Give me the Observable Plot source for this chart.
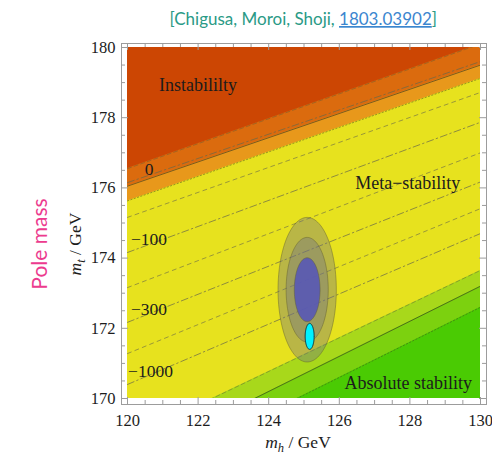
<!DOCTYPE html>
<html>
<head>
<meta charset="utf-8">
<script src="https://cdn.jsdelivr.net/npm/d3@7"></script>
<script src="https://cdn.jsdelivr.net/npm/@observablehq/plot@0.6"></script>
<style>
  html, body { margin: 0; padding: 0; background: #fff; }
  #chart svg { display: block; }
</style>
</head>
<body>
<div id="chart"></div>
<script>
// Axes: Higgs mass m_h and top pole mass m_t, both in GeV
const mhDomain = [120, 130];
const mtDomain = [170, 180];
const xMajorTicks = [120, 122, 124, 126, 128, 130];
const yMajorTicks = [170, 172, 174, 176, 178, 180];

// Phase bands, painted bottom to top; each covers everything above its lower edge.
// An edge is given by m_t at m_h = 120 GeV and at m_h = 130 GeV.
const bandNames = ["absolute", "absoluteEdgeLow", "absoluteEdgeHigh", "meta", "metaEdgeLow", "metaEdgeHigh", "instability"];
const bandFills = ["#4acb03", "#7cd10f", "#a8d81b", "#e7e21e", "#e8981b", "#db6b0e", "#cc4603"];
const bandEdgeAt120 = [170.0, 167.6, 168.2, 168.85, 175.63, 176.05, 176.55];
const bandEdgeAt130 = [170.0, 172.6, 173.2, 173.65, 179.12, 179.5, 180.1];

// Phase boundaries: central value (solid) and the two variations (dashed, dotted)
const edgeStyles = ["solid", "dashed", "dotted"];
const upperEdgeAt120 = [176.05, 176.55, 175.63];
const upperEdgeAt130 = [179.5, 180.1, 179.12];
const lowerEdgeAt120 = [168.2, 168.85, 167.6];
const lowerEdgeAt130 = [173.2, 173.65, 172.6];

// Decay-rate contours (labelled, dash-dot) and the intermediate ones (dashed)
const contourLabels = ["0", "−100", "−300", "−1000"];
const contourAt120 = [176.15, 174.16, 172.17, 170.4];
const contourAt130 = [179.6, 177.87, 176.17, 174.7];
const contourLabelMh = [120.61, 120.61, 120.61, 120.65];
const contourLabelMt = [176.52, 174.53, 172.54, 170.77];
const midContourAt120 = [175.16, 173.16, 171.28];
const midContourAt130 = [178.72, 177.0, 175.41];

// Region names
const regionLabels = ["Instabililty", "Meta−stability", "Absolute stability"];
const regionLabelMh = [122.0, 127.94, 127.95];
const regionLabelMt = [178.92, 176.13, 170.43];

// Current measurement (3σ, 2σ, 1σ) and a future projection
const fitMh = 125.09, fitMt = 173.1;
const fitLevels = ["3σ", "2σ", "1σ"];
const fitHalfWidthMh = [0.826, 0.597, 0.365];
const fitHalfWidthMt = [2.06, 1.49, 0.91];
const fitFills = ["#6e6e88", "#6e6e88", "#5858b6"];
const fitOpacity = [0.38, 0.38, 0.9];
const futureMh = 125.16, futureMt = 171.77;
const futureHalfWidthMh = 0.127, futureHalfWidthMt = 0.37;

// ---- layout ----
const W = 492, H = 456;
const margin = {left: 127, right: 12, top: 47, bottom: 58};
const plotW = W - margin.left - margin.right;
const plotH = H - margin.top - margin.bottom;
const pad = {left: 6, right: 6, top: 4, bottom: 6};
const majorLen = 7, minorLen = 4;
const frameColor = "#9c9c9c";

const xMinorTicks = d3.range(120, 130.01, 0.5).filter(v => !xMajorTicks.includes(v));
const yMinorTicks = d3.range(170, 180.01, 0.5).filter(v => !yMajorTicks.includes(v));

const straight = (a, b) => [{mh: mhDomain[0], mt: a}, {mh: mhDomain[1], mt: b}];

const angles = d3.range(0, 360, 3).map(a => a * Math.PI / 180);
const ellipse = (cx, cy, rx, ry) => angles.map(t => ({mh: cx + rx * Math.cos(t), mt: cy + ry * Math.sin(t)}));

const dashOf = {solid: null, dashed: "4,3", dotted: "1.3,2.2"};
const edgeStroke = {solid: "#2f3020", dashed: "#5a5a3a", dotted: "#3f4a20"};
const edgeOpacity = {solid: 0.75, dashed: 0.55, dotted: 0.6};

const serif = "Liberation Serif, Times New Roman, serif";
const inkColor = "#1c1c1c";

const edgeTicks = (ticks, len) => [
  Plot.tickX(ticks, {x: d => d, insetTop: plotH - len, dy: pad.bottom, stroke: frameColor}),
  Plot.tickX(ticks, {x: d => d, insetBottom: plotH - len, dy: -pad.top, stroke: frameColor})
];
const sideTicks = (ticks, len) => [
  Plot.tickY(ticks, {y: d => d, insetRight: plotW - len, dx: -pad.left, stroke: frameColor}),
  Plot.tickY(ticks, {y: d => d, insetLeft: plotW - len, dx: pad.right, stroke: frameColor})
];

const chart = Plot.plot({
  width: W,
  height: H,
  marginLeft: margin.left,
  marginRight: margin.right,
  marginTop: margin.top,
  marginBottom: margin.bottom,
  style: {fontFamily: serif, fontSize: "16.5px", color: inkColor, background: "#fff"},
  x: {domain: mhDomain},
  y: {domain: mtDomain},
  marks: [
    // phase bands
    ...bandFills.map((f, i) =>
      Plot.areaY(straight(bandEdgeAt120[i], bandEdgeAt130[i]),
        {x: "mh", y1: "mt", y2: mtDomain[1] + 1, fill: f, clip: true})),
    // intermediate contours
    ...midContourAt120.map((a, i) =>
      Plot.line(straight(a, midContourAt130[i]),
        {x: "mh", y: "mt", stroke: "#6a6a48", strokeWidth: 0.9, strokeOpacity: 0.7, strokeDasharray: "4,4", clip: true})),
    // labelled contours
    ...contourAt120.map((a, i) =>
      Plot.line(straight(a, contourAt130[i]),
        {x: "mh", y: "mt", stroke: "#6a6a48", strokeWidth: 0.9, strokeOpacity: 0.8, strokeDasharray: "7,3,1.5,3", clip: true})),
    // phase boundaries
    ...edgeStyles.flatMap((s, i) => [
      Plot.line(straight(upperEdgeAt120[i], upperEdgeAt130[i]),
        {x: "mh", y: "mt", stroke: edgeStroke[s], strokeOpacity: edgeOpacity[s], strokeWidth: 0.8, strokeDasharray: dashOf[s], clip: true}),
      Plot.line(straight(lowerEdgeAt120[i], lowerEdgeAt130[i]),
        {x: "mh", y: "mt", stroke: edgeStroke[s], strokeOpacity: edgeOpacity[s], strokeWidth: 0.8, strokeDasharray: dashOf[s], clip: true})
    ]),
    // measurement ellipses
    ...fitLevels.map((lvl, i) =>
      Plot.line(ellipse(fitMh, fitMt, fitHalfWidthMh[i], fitHalfWidthMt[i]),
        {x: "mh", y: "mt", curve: "linear-closed", fill: fitFills[i], fillOpacity: fitOpacity[i],
         stroke: "#5e5c2c", strokeOpacity: 0.55, strokeWidth: 0.8})),
    Plot.line(ellipse(futureMh, futureMt, futureHalfWidthMh, futureHalfWidthMt),
      {x: "mh", y: "mt", curve: "linear-closed", fill: "#00f2ff", stroke: "#10343a", strokeWidth: 1}),
    // labels
    Plot.text(contourLabels, {x: (d, i) => contourLabelMh[i], y: (d, i) => contourLabelMt[i], text: d => d,
      fontSize: 17.5, fill: inkColor}),
    Plot.text(regionLabels, {x: (d, i) => regionLabelMh[i], y: (d, i) => regionLabelMt[i], text: d => d,
      fontSize: 18, fill: inkColor}),
    // frame, ticks and tick labels
    Plot.frame({stroke: frameColor, insetLeft: -pad.left, insetRight: -pad.right, insetTop: -pad.top, insetBottom: -pad.bottom}),
    ...edgeTicks(xMajorTicks, majorLen), ...edgeTicks(xMinorTicks, minorLen),
    ...sideTicks(yMajorTicks, majorLen), ...sideTicks(yMinorTicks, minorLen),
    Plot.axisX(xMajorTicks, {anchor: "bottom", tickSize: 0, tickPadding: 16, label: null, fontSize: 16.5}),
    Plot.axisY(yMajorTicks, {anchor: "left", tickSize: 0, tickPadding: 12, label: null, fontSize: 16.5})
  ]
});

document.getElementById("chart").appendChild(chart);

// titles with mixed styling
const svg = d3.select(chart);

const xTitle = svg.append("text").attr("x", 298).attr("y", 448).attr("text-anchor", "middle")
  .style("font-family", serif).style("font-size", "17.5px").attr("fill", inkColor);
xTitle.append("tspan").style("font-style", "italic").text("m");
xTitle.append("tspan").style("font-style", "italic").style("font-size", "12.5px").attr("dy", 4).text("h");
xTitle.append("tspan").attr("dy", -4).text(" / GeV");

const yTitle = svg.append("text").attr("transform", "translate(81,244) rotate(-90)").attr("text-anchor", "middle")
  .style("font-family", serif).style("font-size", "17.5px").attr("fill", inkColor);
yTitle.append("tspan").style("font-style", "italic").text("m");
yTitle.append("tspan").style("font-style", "italic").style("font-size", "12.5px").attr("dy", 4).text("t");
yTitle.append("tspan").attr("dy", -4).text(" / GeV");

svg.append("text").attr("transform", "translate(47,244) rotate(-90)").attr("text-anchor", "middle")
  .style("font-family", "Lato, sans-serif").style("font-size", "21px").attr("fill", "#ec3b8e")
  .text("Pole mass");

const cite = svg.append("text").attr("x", 437).attr("y", 25).attr("text-anchor", "end")
  .style("font-family", "Lato, sans-serif").style("font-size", "17px").attr("fill", "#2a9a86");
cite.append("tspan").text("[Chigusa, Moroi, Shoji, ");
cite.append("tspan").attr("fill", "#3b86cf").style("text-decoration", "underline").text("1803.03902");
cite.append("tspan").text("]");
</script>
</body>
</html>
